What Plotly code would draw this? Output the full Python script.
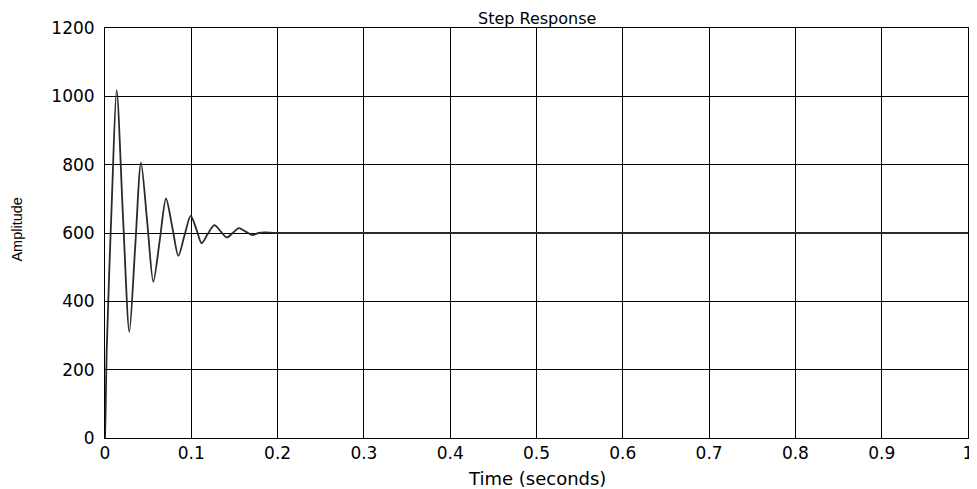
import plotly.graph_objects as go

time_s = [0, 0.0006, 0.002, 0.008, 0.0135, 0.021, 0.0282, 0.035, 0.0417, 0.049, 0.056,
          0.0635, 0.0707, 0.078, 0.085, 0.092, 0.0993, 0.106, 0.112, 0.119, 0.1267,
          0.134, 0.141, 0.148, 0.155, 0.163, 0.1707, 0.178, 0.185, 0.2, 1.0]
amplitude = [0, 60, 260, 700, 1018, 640, 311, 560, 806, 630, 457,
             580, 701, 617, 533, 592, 650, 610, 570, 597, 623,
             605, 587, 600, 614, 604, 594, 600, 602, 600, 600]

x_ticks = [0, 0.1, 0.2, 0.3, 0.4, 0.5, 0.6, 0.7, 0.8, 0.9, 1]
x_tick_labels = ["0", "0.1", "0.2", "0.3", "0.4", "0.5", "0.6", "0.7", "0.8", "0.9", "1"]
y_ticks = [0, 200, 400, 600, 800, 1000, 1200]
y_tick_labels = ["0", "200", "400", "600", "800", "1000", "1200"]

FONT = "DejaVu Sans, Arial"

fig = go.Figure()
fig.add_trace(go.Scatter(x=time_s, y=amplitude, mode="lines",
                         line=dict(color="#2a2a2a", width=1.8, shape="spline", smoothing=0.8),
                         showlegend=False))

axis_common = dict(showline=True, linecolor="black", linewidth=1, mirror=True,
                   showgrid=True, gridcolor="black", gridwidth=1, zeroline=False,
                   ticks="inside", ticklen=4, tickcolor="black", automargin=False,
                   tickfont=dict(family=FONT, size=17, color="black"))

fig.update_layout(
    width=969, height=481,
    margin=dict(l=97, r=9, t=20, b=51),
    paper_bgcolor="white", plot_bgcolor="white",
    xaxis=dict(range=[0, 1], tickvals=x_ticks, ticktext=x_tick_labels, **axis_common),
    yaxis=dict(range=[0, 1200], tickvals=y_ticks, ticktext=y_tick_labels,
               ticklabelstandoff=6, **axis_common),
    annotations=[
        dict(text="Step Response", xref="paper", yref="paper", x=0.5, y=1.022,
             xanchor="center", yanchor="middle", showarrow=False,
             font=dict(family=FONT, size=16, color="black")),
        dict(text="Time (seconds)", xref="paper", yref="paper", x=0.5, y=-0.0976,
             xanchor="center", yanchor="middle", showarrow=False,
             font=dict(family=FONT, size=18, color="black")),
        dict(text="Amplitude", xref="paper", yref="paper", x=-0.1021, y=0.508,
             xanchor="center", yanchor="middle", showarrow=False, textangle=-90,
             font=dict(family="Liberation Sans, Arial", size=14.5, color="black")),
    ],
)

fig.write_html("out.html")
